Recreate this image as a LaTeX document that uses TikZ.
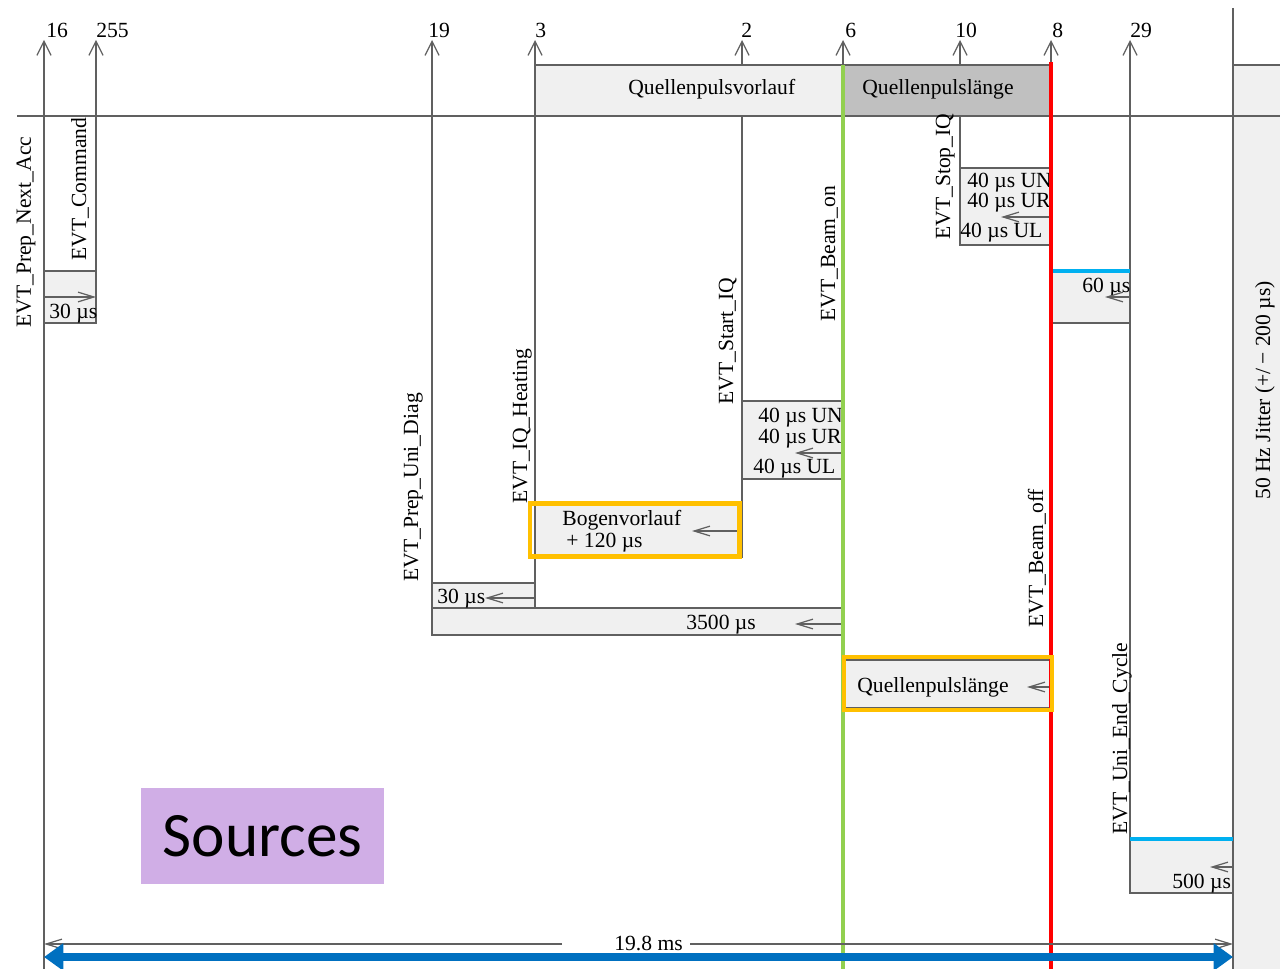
\documentclass[tikz,border=0pt]{standalone}
\usepackage{fontspec}
\setmainfont{Liberation Serif}
\newfontfamily\tagfont{Carlito}
\usetikzlibrary{arrows.meta,fit}

\definecolor{ln}{HTML}{606060}
\definecolor{boxfill}{HTML}{F0F0F0}
\definecolor{pulsfill}{HTML}{C0C0C0}
\definecolor{beamon}{HTML}{92D050}
\definecolor{beamoff}{HTML}{FF0000}
\definecolor{hlorange}{HTML}{FFC000}
\definecolor{cyanbar}{HTML}{00B0F0}
\definecolor{spanblue}{HTML}{0070C0}
\definecolor{srcbg}{HTML}{D0AEE6}

\begin{document}
\begin{tikzpicture}[x=0.02cm,y=-0.02cm,
  font=\fontsize{12.3}{14}\selectfont,
  evtline/.style={draw=ln, line width=0.7pt},
  evtarrow/.style={evtline, -{Straight Barb[length=8pt,width=8pt]}},
  durarrow/.style={evtline, -{Straight Barb[length=9pt,width=5.5pt]}},
  durbox/.style={draw=ln, line width=0.7pt, fill=boxfill, inner sep=0pt},
  pulsbox/.style={draw=ln, line width=0.7pt, inner sep=0pt},
  hlframe/.style={draw=hlorange, line width=2.3pt, inner sep=0pt},
  vlabel/.style={rotate=90, anchor=base west, inner sep=0pt},
  tlabel/.style={anchor=base west, inner sep=0pt},
]
\useasboundingbox (0,0) rectangle (1280,969);

% ---- event lines (bottom end, arrow tip at the top) ----
\foreach \nm/\x/\yb in {e16/44/969, e255/96/323, e19/432/635, e3/535/608,
                        e2/742/557, e6/843/969, e10/960/245, e8/1051/969,
                        e29/1130/893}{
  \coordinate (\nm b) at (\x,\yb);
  \coordinate (\nm t) at (\x,40);
}
\foreach \nm in {e16,e255,e19,e3,e2,e6,e10,e8,e29}{
  \draw[evtarrow] (\nm b) -- (\nm t);
}

% event numbers
\node[tlabel] (n16)  at (46,38)   {16};
\node[tlabel] (n255) at (96,38)   {255};
\node[tlabel] (n19)  at (428,38)  {19};
\node[tlabel] (n3)   at (535,38)  {3};
\node[tlabel] (n2)   at (741,38)  {2};
\node[tlabel] (n6)   at (845,38)  {6};
\node[tlabel] (n10)  at (955,38)  {10};
\node[tlabel] (n8)   at (1052,38) {8};
\node[tlabel] (n29)  at (1130,38) {29};

% ---- jitter band on the right ----
\node[fill=boxfill, inner sep=0pt, fit={(1233,65)(1280,969)}] (jitter) {};
\draw[evtline] (1233,65) -- (1280,65);
\coordinate (jt) at (1233,8);
\coordinate (jb) at (1233,969);
\draw[evtline] (jt) -- (jb);
\node[vlabel] (jitterlbl) at (1270,500) {50 Hz Jitter (+/\,\textminus\ 200 µs)};

% ---- pulse bar ----
\node[durbox, fit={(535,65)(843,116)}] (vorlauf) {};
\node[pulsbox, fill=pulsfill, fit={(843,65)(1051,116)}] (laenge) {};
\node[tlabel] (vorlauflbl) at (628,95) {Quellenpulsvorlauf};
\node[tlabel] (laengelbl) at (862,95) {Quellenpulslänge};
\coordinate (hl) at (17,116);
\coordinate (hr) at (1280,116);
\draw[evtline] (hl) -- (hr);

% ---- duration boxes ----
\node[durbox, fit={(44,271)(96,323)}]    (b30a) {};
\node[durbox, fit={(432,583)(535,608)}]  (b30b) {};
\node[durbox, fit={(432,608)(843,635)}]  (b3500) {};
\node[durbox, fit={(535,505)(742,557)}]  (bbogen) {};
\node[durbox, fit={(742,401)(843,479)}]  (bstart) {};
\node[durbox, fit={(960,168)(1051,245)}] (bstop) {};
\node[durbox, fit={(1051,271)(1130,323)}] (b60) {};
\node[durbox, fit={(1130,839)(1233,893)}] (b500) {};
\node[durbox, fit={(843,660)(1051,708)}]  (bpuls) {};

% box texts
\node[tlabel] (t30a)  at (49,318)  {30 µs};
\node[tlabel] (t30b)  at (437,603) {30 µs};
\node[tlabel] (t3500) at (686,629) {3500 µs};
\node[tlabel] (tbog1) at (562,525) {Bogenvorlauf};
\node[tlabel] (tbog2) at (566,547) {+ 120 µs};
\node[tlabel] (tsa1)  at (758,422) {40 µs UN};
\node[tlabel] (tsa2)  at (758,443) {40 µs UR};
\node[tlabel] (tsa3)  at (753,473) {40 µs UL};
\node[tlabel] (tso1)  at (967,188) {40 µs UN};
\node[tlabel] (tso2)  at (967,208) {40 µs UR};
\node[tlabel] (tso3)  at (960,238) {40 µs UL};
\node[tlabel] (t60)   at (1082,293) {60 µs};
\node[tlabel] (t500)  at (1172,888) {500 µs};
\node[tlabel] (tpuls) at (857,692) {Quellenpulslänge};

% duration arrows inside the boxes
\coordinate (a30a0) at (44,297);   \coordinate (a30a1) at (96,297);
\coordinate (a30b0) at (535,598);  \coordinate (a30b1) at (485,598);
\coordinate (a350)  at (843,624);  \coordinate (a351)  at (795,624);
\coordinate (abog0) at (737,531);  \coordinate (abog1) at (692,531);
\coordinate (asa0)  at (843,453);  \coordinate (asa1)  at (795,453);
\coordinate (aso0)  at (1051,217); \coordinate (aso1)  at (1001,217);
\coordinate (a600)  at (1130,297); \coordinate (a601)  at (1105,297);
\coordinate (a5000) at (1233,867); \coordinate (a5001) at (1210,867);
\coordinate (apl0)  at (1051,687); \coordinate (apl1)  at (1027,687);
\draw[durarrow] (a30a0) -- (a30a1);
\draw[durarrow] (a30b0) -- (a30b1);
\draw[durarrow] (a350) -- (a351);
\draw[durarrow] (abog0) -- (abog1);
\draw[durarrow] (asa0) -- (asa1);
\draw[durarrow] (aso0) -- (aso1);
\draw[durarrow] (a600) -- (a601);
\draw[durarrow] (a5000) -- (a5001);
\draw[durarrow] (apl0) -- (apl1);

% ---- event names ----
\node[vlabel] (lprep)  at (31,328)   {EVT\_Prep\_Next\_Acc};
\node[vlabel] (lcmd)   at (86,261)   {EVT\_Command};
\node[vlabel] (ldiag)  at (418,582)  {EVT\_Prep\_Uni\_Diag};
\node[vlabel] (lheat)  at (527,504)  {EVT\_IQ\_Heating};
\node[vlabel] (lstart) at (733,405)  {EVT\_Start\_IQ};
\node[vlabel] (lbon)   at (835,322)  {EVT\_Beam\_on};
\node[vlabel] (lstop)  at (950,240)  {EVT\_Stop\_IQ};
\node[vlabel] (lboff)  at (1043,628) {EVT\_Beam\_off};
\node[vlabel] (lend)   at (1127,835) {EVT\_Uni\_End\_Cycle};

% ---- beam on / off markers ----
\coordinate (gont) at (843,65);  \coordinate (gonb) at (843,969);
\coordinate (gofft) at (1051,62); \coordinate (goffb) at (1051,969);
\draw[beamon, line width=2.6pt] (gont) -- (gonb);
\draw[beamoff, line width=2.8pt] (gofft) -- (goffb);

% cyan bars on the end-of-cycle boxes
\coordinate (c1l) at (1053,271); \coordinate (c1r) at (1130,271);
\coordinate (c2l) at (1130,839); \coordinate (c2r) at (1233,839);
\draw[cyanbar, line width=2.3pt] (c1l) -- (c1r);
\draw[cyanbar, line width=2.3pt] (c2l) -- (c2r);

% highlight frames
\node[hlframe, fit={(530,503.5)(739.5,556.5)}] (hbog) {};
\node[hlframe, fit={(844,657)(1052,710)}]   (hpuls) {};

% ---- cycle length ----
\coordinate (sl) at (44,944);   \coordinate (sr) at (1233,944);
\coordinate (sgl) at (562,944); \coordinate (sgr) at (690,944);
\node[tlabel] (spanlbl) at (614,950) {19.8 ms};
\draw[durarrow] (sgl) -- (sl);
\draw[durarrow] (sgr) -- (sr);
\coordinate (bl) at (44,957);   \coordinate (br) at (1233,957);
\draw[spanblue, line width=4.5pt,
      {Triangle[length=11pt,width=15pt]}-{Triangle[length=11pt,width=15pt]}]
      (bl) -- (br);

% ---- tag ----
\node[fill=srcbg, inner sep=0pt, minimum width=4.86cm, minimum height=1.92cm,
      font=\tagfont\fontsize{36}{40}\selectfont] (src) at (262.5,836) {Sources};
\end{tikzpicture}
\end{document}
